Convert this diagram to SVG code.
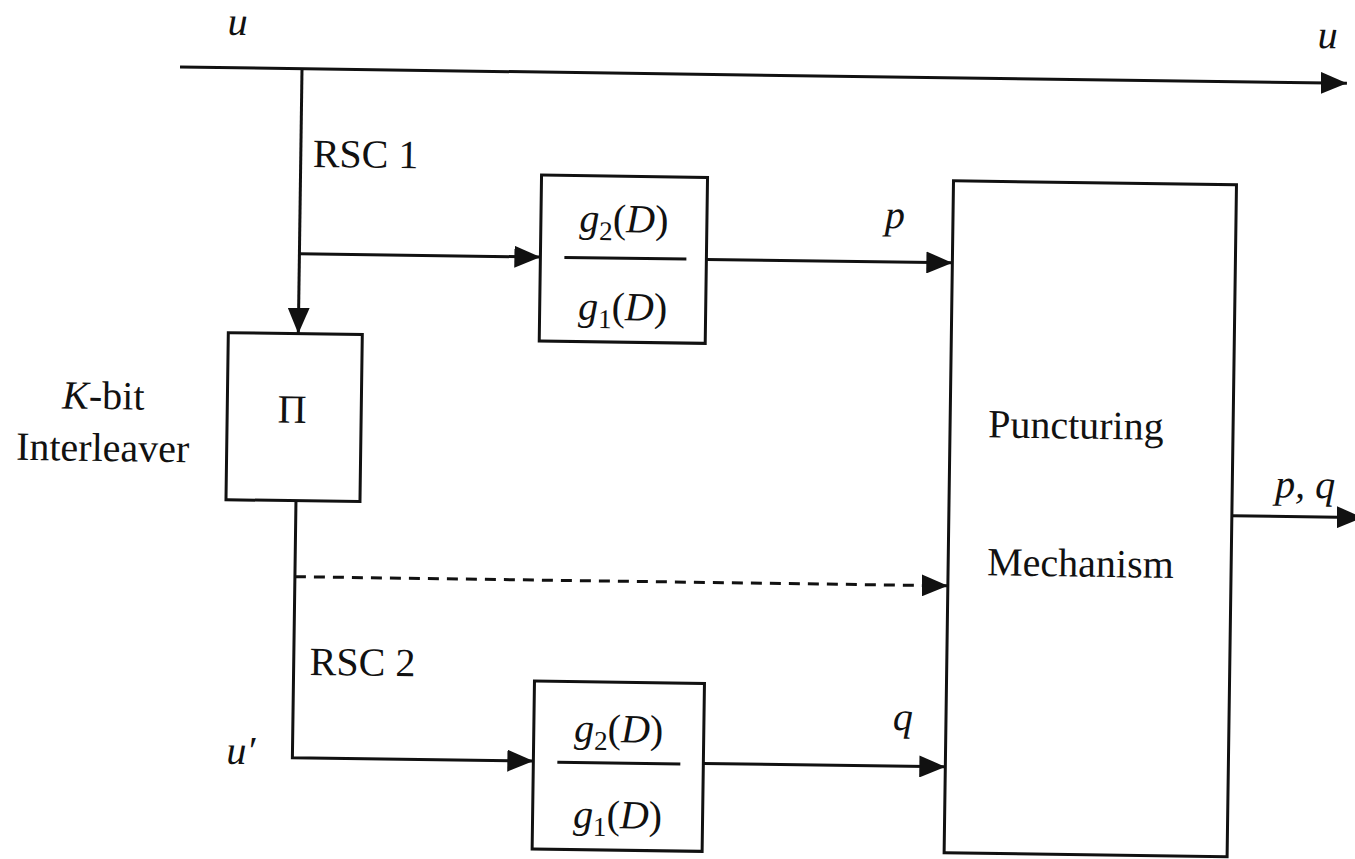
<svg xmlns="http://www.w3.org/2000/svg" width="1355" height="859" viewBox="0 0 1355 859">
<style>
.ln{fill:none;stroke:#111;stroke-width:3}
.bx{fill:none;stroke:#111;stroke-width:3}
.t{font-family:"Liberation Serif","Times New Roman",serif;font-size:40px;fill:#111}
.i{font-style:italic}
.dash{stroke-dasharray:11 8}
</style>
<defs>
<marker id="ah" markerUnits="userSpaceOnUse" markerWidth="26" markerHeight="22" refX="26" refY="11" orient="auto">
<path d="M0,0 L26,11 L0,22 Z" fill="#111"/>
</marker>
</defs>
<rect width="1355" height="859" fill="#fff"/>
<g transform="rotate(0.8 677 430)">
<g id="connectors">
<path class="ln" d="M175,74 H1342" marker-end="url(#ah)"/>
<path class="ln" d="M297,74 V339" marker-end="url(#ah)"/>
<path class="ln" d="M297,259 H538" marker-end="url(#ah)"/>
<path class="ln" d="M704,259 H950" marker-end="url(#ah)"/>
<path class="ln" d="M297,506 V763 H538" marker-end="url(#ah)"/>
<path class="ln dash" d="M297,582 H924"/>
<path class="ln" d="M924,582 H950" marker-end="url(#ah)"/>
<path class="ln" d="M708,763 H950" marker-end="url(#ah)"/>
<path class="ln" d="M1233,508 H1364" marker-end="url(#ah)"/>
</g>
<g id="labels">
<text class="t i" x="222" y="41">u</text>
<text class="t i" x="1312" y="39">u</text>
<text class="t" x="309" y="172">RSC 1</text>
<text class="t" x="313" y="680">RSC 2</text>
<text class="t i" x="882" y="225">p</text>
<text class="t i" x="897" y="727">q</text>
<text class="t i" x="1276" y="489">p, q</text>
<text class="t i" x="231" y="770">u′</text>
<text class="t" x="103" y="417" text-anchor="middle"><tspan class="i">K</tspan>-bit</text>
<text class="t" x="103" y="469" text-anchor="middle">Interleaver</text>
</g>
<g id="interleaver">
<rect class="bx" x="227" y="339" width="134" height="167"/>
<text class="t" x="292" y="428" text-anchor="middle">Π</text>
</g>
<g id="rsc1">
<rect class="bx" x="538" y="177" width="166" height="166"/>
<line class="ln" x1="562" y1="259" x2="684" y2="259"/>
<text class="t" x="621" y="233" text-anchor="middle"><tspan class="i">g</tspan><tspan font-size="27" dy="8">2</tspan><tspan dy="-8">(</tspan><tspan class="i">D</tspan>)</text>
<text class="t" x="621" y="321" text-anchor="middle"><tspan class="i">g</tspan><tspan font-size="27" dy="8">1</tspan><tspan dy="-8">(</tspan><tspan class="i">D</tspan>)</text>
</g>
<g id="rsc2">
<rect class="bx" x="538" y="683" width="170" height="168"/>
<line class="ln" x1="562" y1="764" x2="685" y2="764"/>
<text class="t" x="623" y="743" text-anchor="middle"><tspan class="i">g</tspan><tspan font-size="27" dy="8">2</tspan><tspan dy="-8">(</tspan><tspan class="i">D</tspan>)</text>
<text class="t" x="623" y="829" text-anchor="middle"><tspan class="i">g</tspan><tspan font-size="27" dy="8">1</tspan><tspan dy="-8">(</tspan><tspan class="i">D</tspan>)</text>
</g>
<g id="puncturing">
<rect class="bx" x="950" y="177" width="283" height="672"/>
<text class="t" x="988" y="433">Puncturing</text>
<text class="t" x="989" y="571">Mechanism</text>
</g>
</g>
</svg>
